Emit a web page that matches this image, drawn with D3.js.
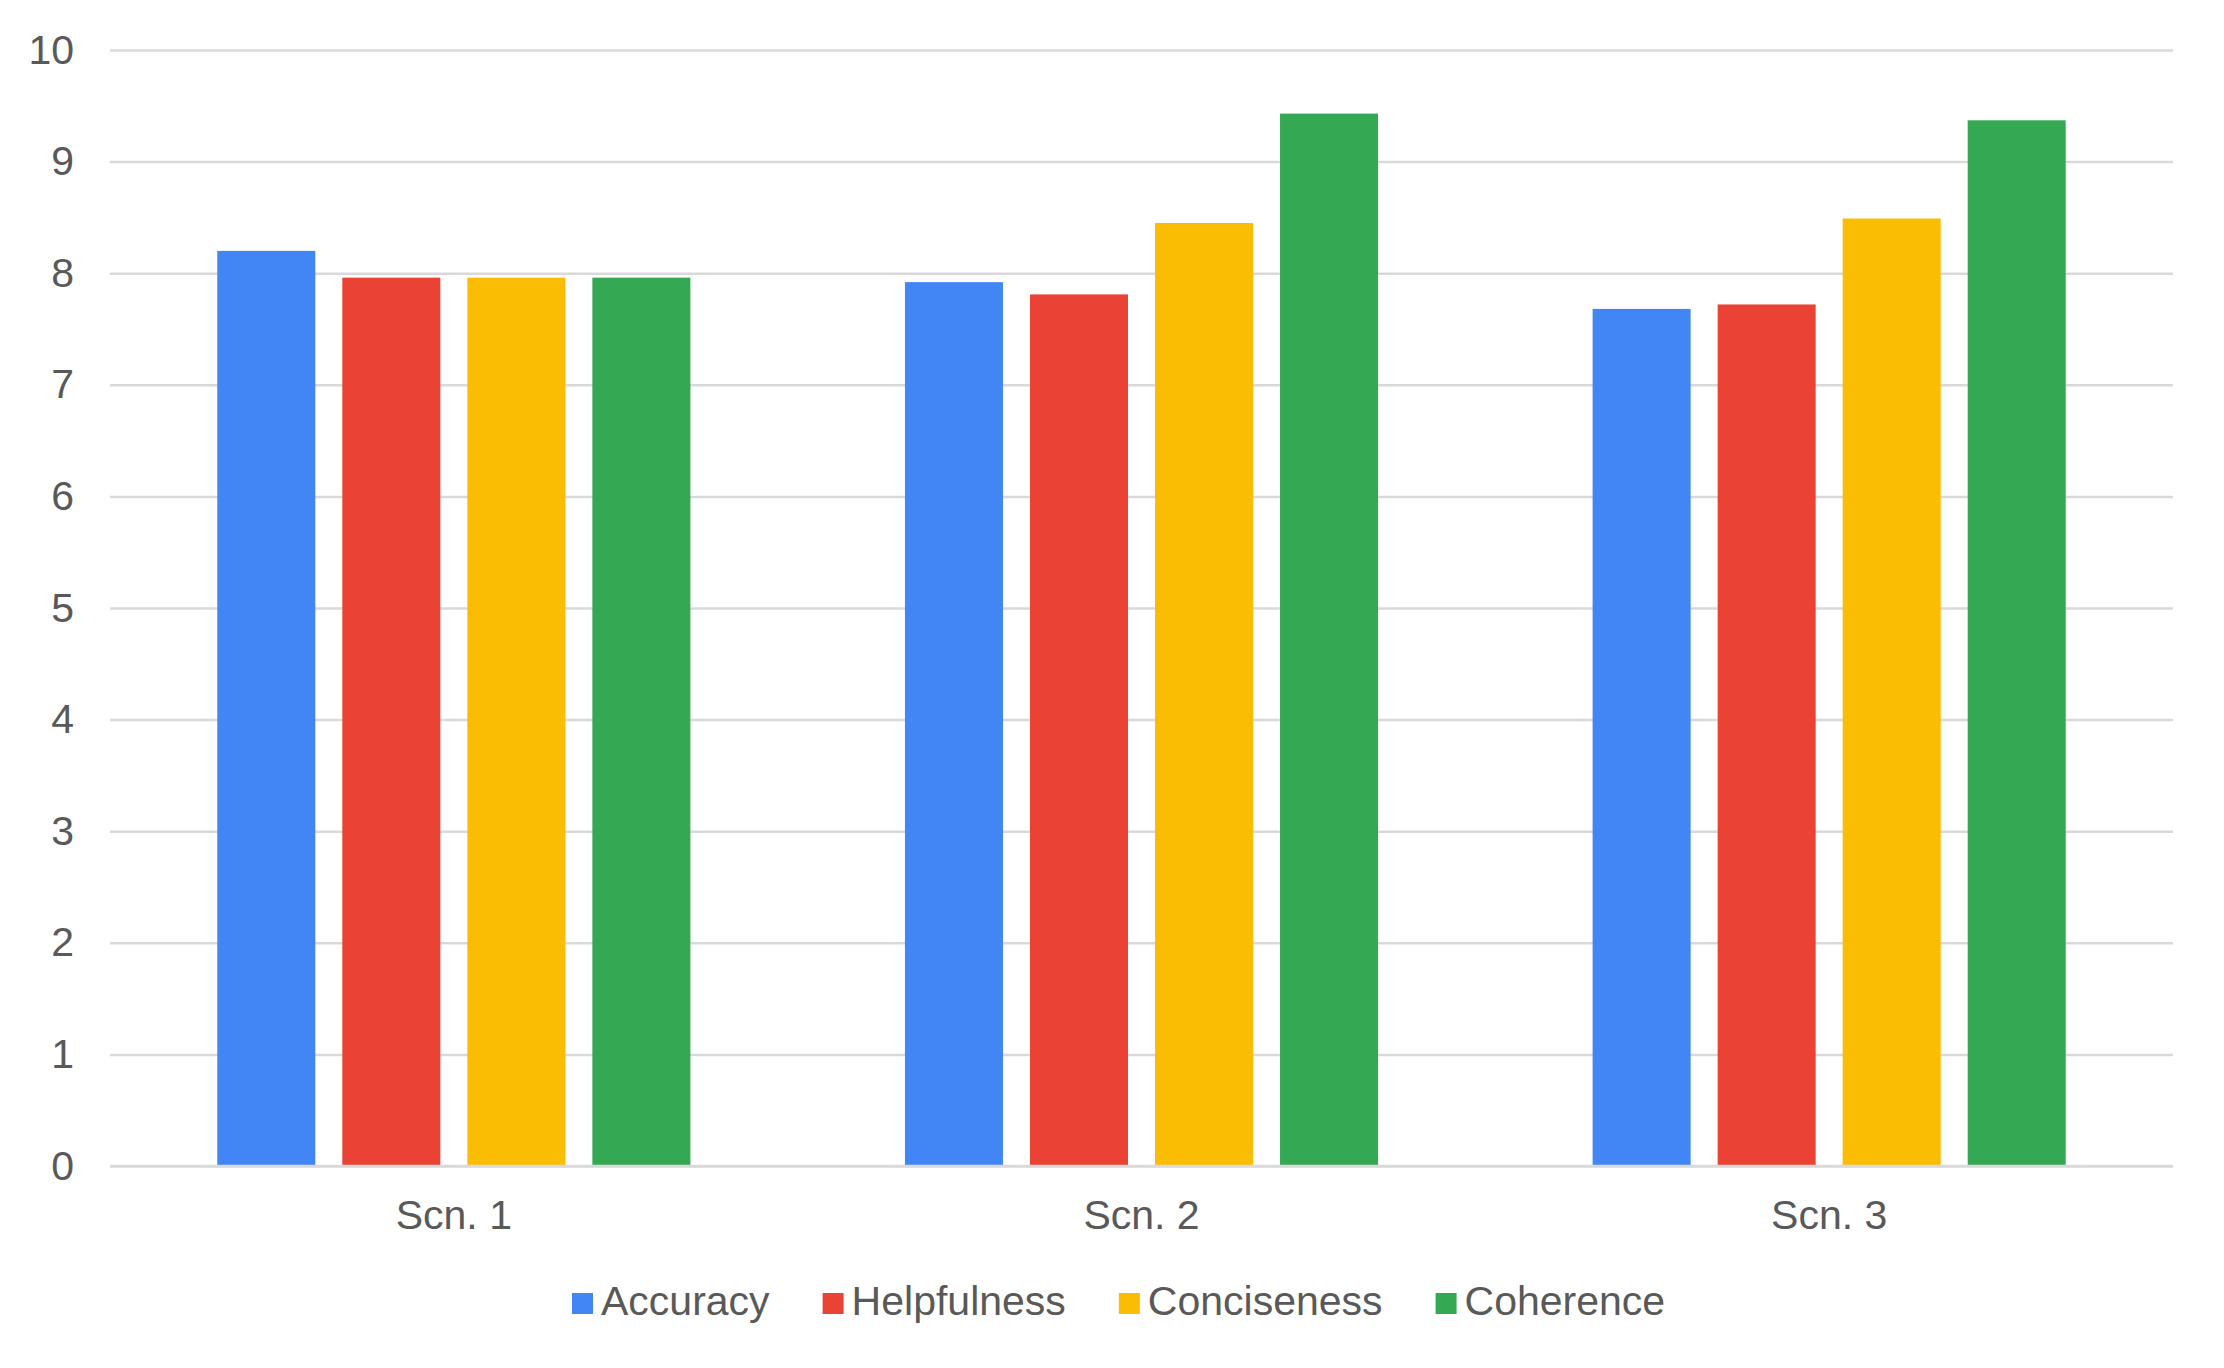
<!DOCTYPE html>
<html>
<head>
<meta charset="utf-8">
<script src="https://cdn.jsdelivr.net/npm/d3@7"></script>
<style>
  body { margin: 0; background: #fff; }
  text { font-family: "Liberation Sans", Arial, sans-serif; fill: #595959; }
</style>
</head>
<body>
<script>
// chart data
var categories = ['Scn. 1', 'Scn. 2', 'Scn. 3'];
var seriesNames = ['Accuracy', 'Helpfulness', 'Conciseness', 'Coherence'];
var accuracy = [8.2, 7.92, 7.68];
var helpfulness = [7.96, 7.81, 7.72];
var conciseness = [7.96, 8.45, 8.49];
var coherence = [7.96, 9.43, 9.37];
var yTicks = [0, 1, 2, 3, 4, 5, 6, 7, 8, 9, 10];
var colors = ['#4285f4', '#ea4335', '#fbbc04', '#34a853'];

var seriesValues = [accuracy, helpfulness, conciseness, coherence];

var width = 2224;
var height = 1368;
// note: "top" is a reserved window prop, so use plot* names
var plotLeft = 110, plotRight = 2173, plotTop = 50, plotBottom = 1166;

var svg = d3.select('body').append('svg')
  .attr('width', width)
  .attr('height', height);

var x0 = d3.scaleBand()
  .domain(categories)
  .range([plotLeft, plotRight])
  .paddingInner(0.312)
  .paddingOuter(0.156);

var x1 = d3.scaleBand()
  .domain(seriesNames)
  .range([0, x0.bandwidth()])
  .paddingInner(0.216);

var y = d3.scaleLinear()
  .domain([0, 10])
  .range([plotBottom, plotTop]);

var color = d3.scaleOrdinal().domain(seriesNames).range(colors);

// gridlines + y labels
var yAxis = d3.axisLeft(y)
  .tickValues(yTicks)
  .tickSize(-(plotRight - plotLeft))
  .tickPadding(36)
  .tickFormat(d3.format('d'));

var gy = svg.append('g')
  .attr('transform', 'translate(' + plotLeft + ',0)')
  .call(yAxis);
gy.select('.domain').remove();
gy.selectAll('.tick line')
  .attr('stroke', '#d9d9d9')
  .attr('stroke-width', 2.5);
gy.selectAll('.tick text')
  .attr('font-size', 41)
  .attr('font-family', '"Liberation Sans", Arial, sans-serif')
  .attr('dy', '0.32em')
  .style('fill', '#595959');

// bars
var groups = svg.selectAll('g.group')
  .data(categories)
  .enter().append('g')
  .classed('group', true)
  .attr('transform', function(d) { return 'translate(' + x0(d) + ',0)'; });

groups.selectAll('rect')
  .data(function(d, i) {
    return seriesNames.map(function(s, j) { return {name: s, value: seriesValues[j][i]}; });
  })
  .enter().append('rect')
  .attr('x', function(d) { return x1(d.name); })
  .attr('y', function(d) { return y(d.value); })
  .attr('width', x1.bandwidth())
  .attr('height', function(d) { return y(0) - y(d.value); })
  .attr('fill', function(d) { return color(d.name); });

// baseline on top of bars
svg.append('line')
  .attr('x1', plotLeft).attr('x2', plotRight)
  .attr('y1', y(0)).attr('y2', y(0))
  .attr('stroke', '#d9d9d9')
  .attr('stroke-width', 2.5);

// x labels
var xAxis = d3.axisBottom(x0).tickSize(0).tickPadding(0);
var gx = svg.append('g')
  .attr('transform', 'translate(0,' + plotBottom + ')')
  .call(xAxis);
gx.select('.domain').remove();
gx.selectAll('.tick text')
  .attr('font-size', 41)
  .attr('font-family', '"Liberation Sans", Arial, sans-serif')
  .attr('dy', 0)
  .attr('y', 63)
  .style('fill', '#595959');

// legend
var legend = svg.append('g');
var lx = 572;
seriesNames.forEach(function(name) {
  legend.append('rect')
    .attr('x', lx).attr('y', 1293)
    .attr('width', 21).attr('height', 21)
    .attr('fill', color(name));
  var t = legend.append('text')
    .attr('x', lx + 29).attr('y', 1315)
    .attr('font-size', 41)
    .text(name);
  lx = lx + 29 + t.node().getComputedTextLength() + 53;
});
</script>
</body>
</html>
